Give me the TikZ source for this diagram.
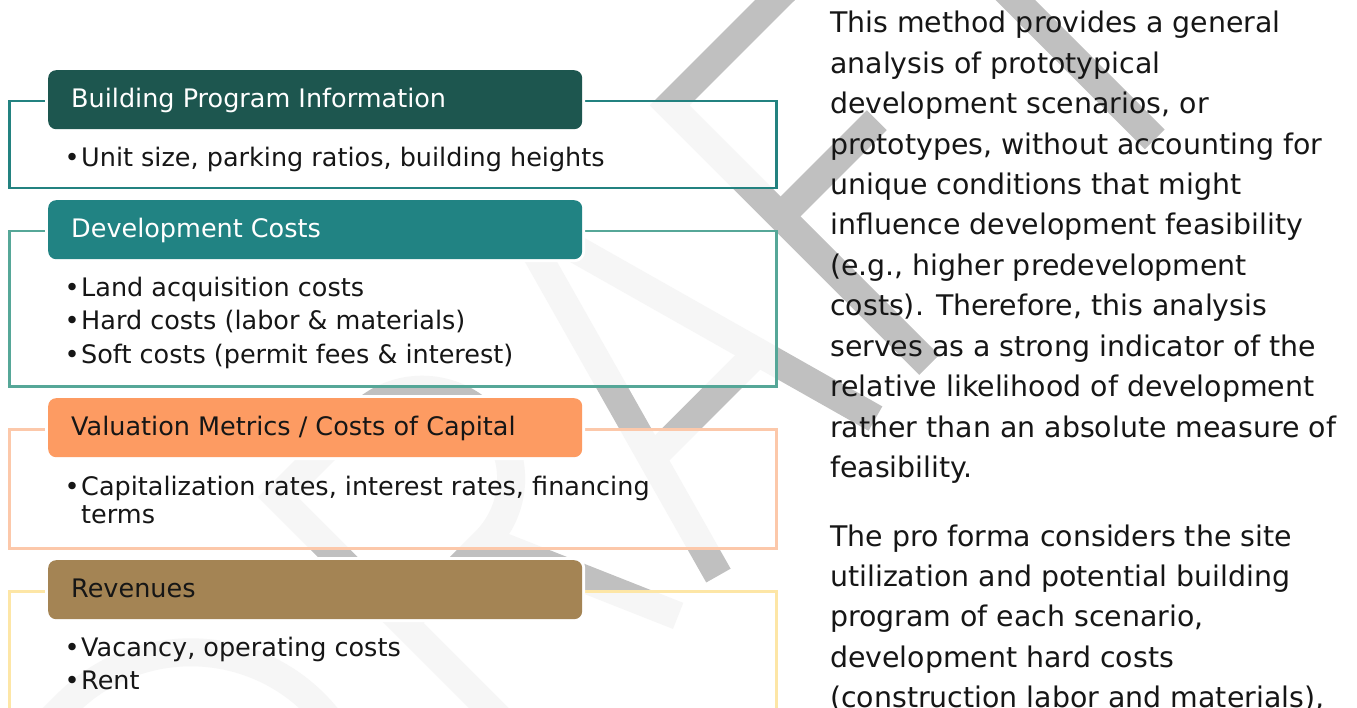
\documentclass[tikz,border=0pt]{standalone}
\usepackage{fontspec}
\setmainfont{DejaVu Sans}
\definecolor{wmgrey}{RGB}{192,192,192}
\definecolor{ink}{RGB}{22,22,22}
\definecolor{tabA}{RGB}{29,86,79}
\definecolor{lineA}{RGB}{35,130,128}
\definecolor{tabB}{RGB}{33,131,131}
\definecolor{lineB}{RGB}{86,167,152}
\definecolor{tabC}{RGB}{253,155,98}
\definecolor{lineC}{RGB}{252,200,170}
\definecolor{tabD}{RGB}{164,132,84}
\definecolor{lineD}{RGB}{253,230,166}
\begin{document}
\begin{tikzpicture}[x=1pt,y=-1pt,
  wm/.style={draw=wmgrey, line width=28pt, line cap=butt, line join=miter},
  panel/.style={anchor=north west, minimum width=767pt, inner sep=0pt,
    line width=2.5pt, fill=white, fill opacity=0.86},
  tabbox/.style={anchor=north west, minimum width=534pt, minimum height=59pt,
    inner sep=0pt, rounded corners=8pt, preaction={draw=white, line width=6pt}},
  tabtext/.style={anchor=base west, inner sep=0pt, font=\fontsize{25.5}{30}\selectfont},
  itemtext/.style={anchor=base west, inner sep=0pt, text=ink, font=\fontsize{25.5}{30}\selectfont},
  bodytext/.style={anchor=base west, inner sep=0pt, text=ink, font=\fontsize{28.4}{34}\selectfont}]
\useasboundingbox (0,0) rectangle (1357,708);
\begin{scope}
\clip (0,0) rectangle (1357,708);
\fill[white] (0,0) rectangle (1357,708);

% DRAFT watermark, drawn in its own rotated letter frame (baseline along 45 degrees)
\begin{scope}[shift={(647pt,-647pt)}, rotate=45, x=1pt, y=1pt]
  % D
  \draw[wm] (-620,370) -- (-450,370) arc[start angle=90, end angle=-90, radius=175] -- (-620,20) -- cycle;
  % R
  \draw[wm] (-155,0) -- (-155,367) -- (-40,367) arc[start angle=90, end angle=-90, radius=89] -- (-155,189);
  \draw[wm] (-38,189) -- (44,0);
  % A
  \draw[wm, line join=bevel] (101,0) -- (212,400) -- (323,0);
  \draw[wm] (137,130) -- (287,130);
  % F
  \draw[wm] (399,0) -- (399,367) -- (585,367);
  \draw[wm] (399,210) -- (535,210);
  % T
  \draw[wm] (718,0) -- (718,381);
  \draw[wm] (560,367) -- (876,367);
\end{scope}

% Building program information
\node[panel, draw=lineA, minimum height=87pt] (b1) at (8,100) {};
\node[tabbox, fill=tabA] (t1) at (48,70) {};
\node[tabtext, text=white] (h1) at (71,108) {Building Program Information};
\node[itemtext] (d1) at (64.5,167) {•};
\node[itemtext] (i1) at (81,167) {Unit size, parking ratios, building heights};

% Development costs
\node[panel, draw=lineB, minimum height=155pt] (b2) at (8,230) {};
\node[tabbox, fill=tabB] (t2) at (48,200) {};
\node[tabtext, text=white] (h2) at (71,238) {Development Costs};
\node[itemtext] (d2a) at (64.5,297) {•};
\node[itemtext] (i2a) at (81,297) {Land acquisition costs};
\node[itemtext] (d2b) at (64.5,330) {•};
\node[itemtext] (i2b) at (81,330) {Hard costs (labor \& materials)};
\node[itemtext] (d2c) at (64.5,363) {•};
\node[itemtext] (i2c) at (81,363) {Soft costs (permit fees \& interest)};

% Valuation metrics
\node[panel, draw=lineC, minimum height=119pt] (b3) at (8,428) {};
\node[tabbox, fill=tabC] (t3) at (48,398) {};
\node[tabtext, text=ink] (h3) at (71,435) {Valuation Metrics / Costs of Capital};
\node[itemtext] (d3) at (64.5,495) {•};
\node[itemtext] (i3a) at (81,495) {Capitalization rates, interest rates, financing};
\node[itemtext] (i3b) at (81,523) {terms};

% Revenues
\node[panel, draw=lineD, minimum height=140pt] (b4) at (8,590) {};
\node[tabbox, fill=tabD] (t4) at (48,560) {};
\node[tabtext, text=ink] (h4) at (71,597) {Revenues};
\node[itemtext] (d4a) at (64.5,656) {•};
\node[itemtext] (i4a) at (81,656) {Vacancy, operating costs};
\node[itemtext] (d4b) at (64.5,689) {•};
\node[itemtext] (i4b) at (81,689) {Rent};

% Explanatory text
\node[bodytext] (p1)  at (830,33)    {This method provides a general};
\node[bodytext] (p2)  at (830,73.4)  {analysis of prototypical};
\node[bodytext] (p3)  at (830,113.8) {development scenarios, or};
\node[bodytext] (p4)  at (830,154.2) {prototypes, without accounting for};
\node[bodytext] (p5)  at (830,194.6) {unique conditions that might};
\node[bodytext] (p6)  at (830,235)   {influence development feasibility};
\node[bodytext] (p7)  at (830,275.4) {(e.g., higher predevelopment};
\node[bodytext] (p8)  at (830,315.8) {costs). Therefore, this analysis};
\node[bodytext] (p9)  at (830,356.2) {serves as a strong indicator of the};
\node[bodytext] (p10) at (830,396.6) {relative likelihood of development};
\node[bodytext] (p11) at (830,437)   {rather than an absolute measure of};
\node[bodytext] (p12) at (830,477.4) {feasibility.};
\node[bodytext] (q1)  at (830,546)   {The pro forma considers the site};
\node[bodytext] (q2)  at (830,586.4) {utilization and potential building};
\node[bodytext] (q3)  at (830,626.8) {program of each scenario,};
\node[bodytext] (q4)  at (830,667.2) {development hard costs};
\node[bodytext] (q5)  at (830,707.6) {(construction labor and materials),};
\end{scope}
\end{tikzpicture}
\end{document}
